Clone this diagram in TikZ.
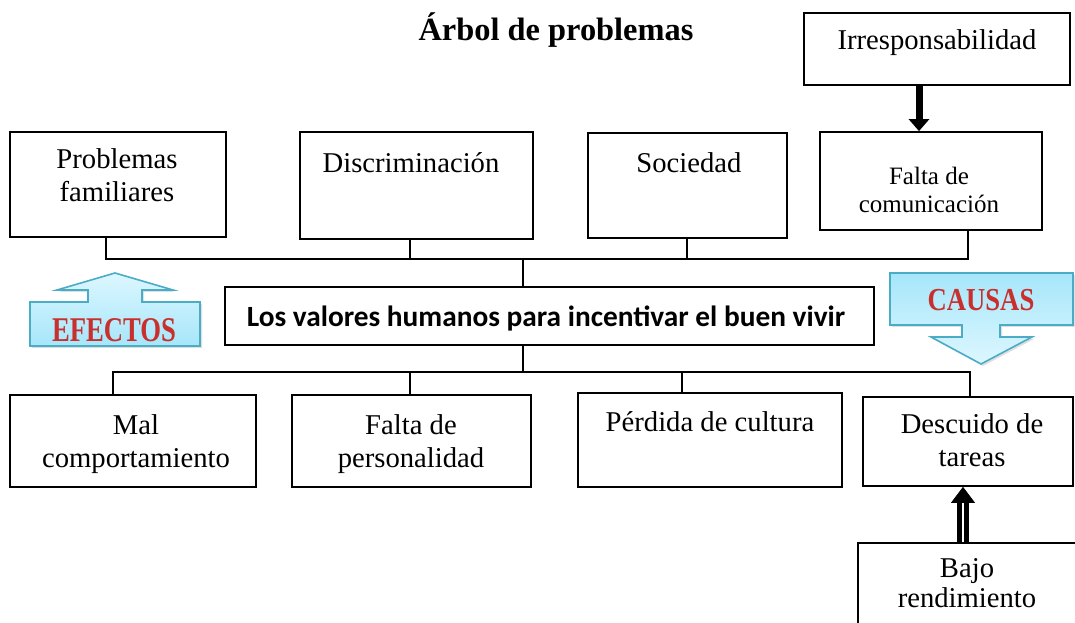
\documentclass[tikz,border=0pt]{standalone}
\usepackage{fontspec}
\setmainfont{Liberation Serif}
\newfontfamily\calfont{Carlito}
\usetikzlibrary{arrows.meta,shadows}
\definecolor{boxline}{HTML}{4BACC6}
\definecolor{lightc}{HTML}{DDF7FF}
\definecolor{darkc}{HTML}{A6E6FA}
\definecolor{redtxt}{HTML}{C8302E}
\begin{document}
\begin{tikzpicture}[x=0.75pt,y=-0.75pt,
  bx/.style={draw=black, line width=1.3pt, rectangle, inner sep=0pt},
  txt/.style={align=center, anchor=base, inner sep=0pt, font=\fontsize{21.5}{25}\selectfont},
  conn/.style={draw=black, line width=1pt},
  callout/.style={draw=boxline, line width=1.2pt, drop shadow={opacity=0.25, shadow xshift=1.5pt, shadow yshift=-1.5pt}},
  lbl/.style={font=\bfseries\fontsize{20}{22}\selectfont, text=redtxt, inner sep=0pt},
]
\useasboundingbox (0,0) rectangle (1075,623);
\fill[white] (0,0) rectangle (1075,623);

% title
\node[font=\bfseries\fontsize{24.3}{28}\selectfont, anchor=base, inner sep=0pt] (title) at (556,41) {Árbol de problemas};

% boxes
\node[bx, minimum width=199.5pt, minimum height=54pt] (irr) at (937,49) {};
\node[bx, minimum width=162pt, minimum height=78.75pt] (pf) at (118,184.5) {};
\node[bx, minimum width=174.75pt, minimum height=80.25pt] (dis) at (416.5,185.5) {};
\node[bx, minimum width=149.25pt, minimum height=78.75pt] (soc) at (687.5,185.5) {};
\node[bx, minimum width=166.5pt, minimum height=73.5pt] (fc) at (931,181) {};
\node[bx, minimum width=486.75pt, minimum height=43.5pt] (vh) at (549.5,316) {};
\node[bx, minimum width=184.5pt, minimum height=69pt] (mal) at (133,441) {};
\node[bx, minimum width=179.25pt, minimum height=69pt] (fp) at (411.5,441) {};
\node[bx, minimum width=198pt, minimum height=70.5pt] (per) at (710,440) {};
\node[bx, minimum width=157.5pt, minimum height=66.75pt] (des) at (968,441.5) {};
\node[bx, minimum width=177.75pt, minimum height=87.75pt] (bajo) at (976.5,601.5) {};

% texts (multi-line nodes: base = last line)
\node[txt] (irrt) at (937,50) {Irresponsabilidad};
\node[txt] (pft) at (117,202) {Problemas\\familiares};
\node[txt] (dist) at (411,173) {Discriminación};
\node[txt] (soct) at (689,173) {Sociedad};
\node[txt, font=\fontsize{18.75}{21}\selectfont] (fct) at (929,213) {Falta de\\comunicación};
\node[anchor=base, inner sep=0pt, font=\calfont\bfseries\fontsize{22}{24}\selectfont] (vht) at (546,327) {Los valores humanos para incentivar el buen vivir};
\node[txt] (malt) at (136,468) {Mal\\comportamiento};
\node[txt] (fpt) at (411,468) {Falta de\\personalidad};
\node[txt] (pert) at (710,432) {Pérdida de cultura};
\node[txt] (dest) at (972,467) {Descuido de\\tareas};
\node[txt, font=\fontsize{21.5}{22}\selectfont] (bajot) at (967,607) {Bajo\\rendimiento};

% tree connectors
\coordinate (jt) at (523,259);
\coordinate (jb) at (523,372);
\coordinate (t1) at (106,259);
\coordinate (t2) at (410,259);
\coordinate (t3) at (687,259);
\coordinate (t4) at (968,259);
\coordinate (b1) at (113,372);
\coordinate (b2) at (410,372);
\coordinate (b3) at (682,372);
\coordinate (b4) at (970,372);
\draw[conn] (pf.south -| t1) -- (t1) -- (t4) -- (fc.south -| t4);
\draw[conn] (dis.south -| t2) -- (t2);
\draw[conn] (soc.south -| t3) -- (t3);
\draw[conn] (jt) -- (vh.north -| jt);
\draw[conn] (vh.south -| jb) -- (jb);
\draw[conn] (mal.north -| b1) -- (b1) -- (b4) -- (des.north -| b4);
\draw[conn] (fp.north -| b2) -- (b2);
\draw[conn] (per.north -| b3) -- (b3);

% irresponsabilidad arrow
\draw[line width=5.25pt, -{Triangle[width=15pt,length=9pt]}] ([xshift=-13.5pt]irr.south) -- ([xshift=-9pt]fc.north);

% double arrow bajo -> descuido
\coordinate (dh) at (963,500);
\draw[line width=3.5pt, double=white, double distance=1.5pt] (bajo.north -| dh) -- (dh);
\draw[line width=0.5pt, -{Triangle[width=18pt,length=12pt]}] ([yshift=1pt]dh) -- (des.south -| dh);

% EFECTOS callout
\path[callout, top color=lightc, bottom color=darkc]
  (115,273) -- (173,290) -- (142,290) -- (142,302) -- (200,302) -- (200,346)
  -- (30,346) -- (30,302) -- (88,302) -- (88,290) -- (57,290) -- cycle;
\node[lbl] (efe) at (114,330) {\scalebox{1}[1.3]{EFECTOS}};

% CAUSAS callout
\path[callout, top color=darkc, bottom color=lightc]
  (890,273) -- (1073,273) -- (1073,325) -- (1000,325) -- (1000,337) -- (1032,337)
  -- (981,364) -- (931,337) -- (962,337) -- (962,325) -- (890,325) -- cycle;
\node[lbl] (cau) at (981,300) {\scalebox{1}[1.2]{CAUSAS}};
\end{tikzpicture}
\end{document}
